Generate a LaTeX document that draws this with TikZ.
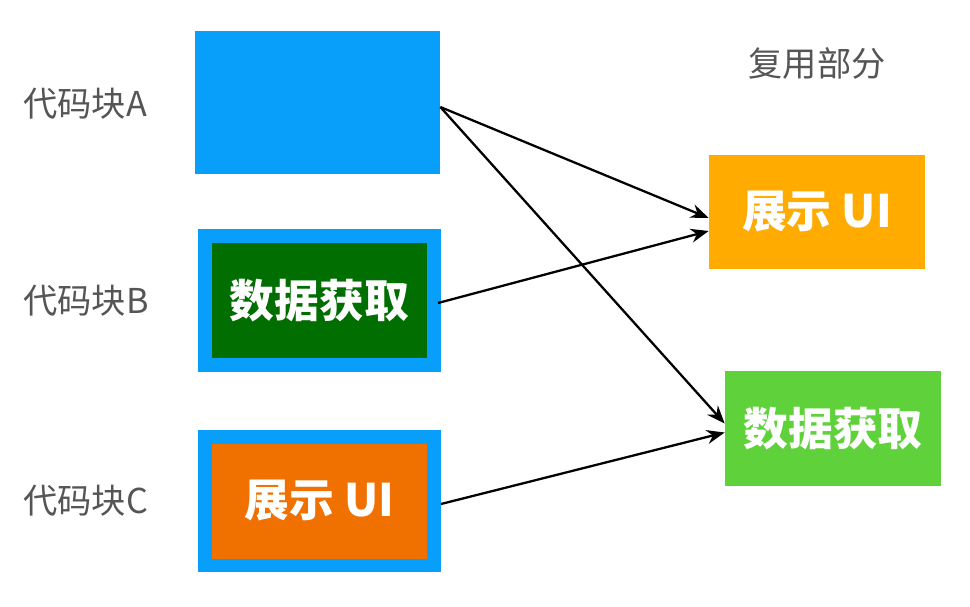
\documentclass[tikz,border=0pt]{standalone}
\usepackage{fontspec}
\usepackage{xcolor}
\usepackage{tikz}
\usetikzlibrary{arrows.meta,positioning}
\newfontfamily\cjk{Noto Sans CJK SC}
\definecolor{blkblue}{HTML}{089FFB}
\definecolor{blkgreen}{HTML}{006E00}
\definecolor{blkorange}{HTML}{F07000}
\definecolor{reuseamber}{HTML}{FFAB00}
\definecolor{reusegreen}{HTML}{5FD23B}
\definecolor{labelgray}{HTML}{555555}

\begin{document}
\begin{tikzpicture}[
  x=0.02cm, y=-0.02cm,
  codeblock/.style={rectangle, fill=blkblue, minimum width=4.9cm, minimum height=2.86cm, inner sep=0pt},
  innerblock/.style={rectangle, draw=blkblue, line width=0.28cm, minimum width=4.58cm, minimum height=2.58cm, inner sep=0pt, text=white, font=\cjk\bfseries\fontsize{25.5}{28}\selectfont},
  reuse/.style={rectangle, minimum width=4.32cm, minimum height=2.29cm, inner sep=0pt, text=white, font=\cjk\bfseries\fontsize{25.5}{28}\selectfont},
  caption/.style={text=labelgray, inner sep=0pt, font=\cjk\fontsize{19.5}{22}\selectfont},
  edge/.style={-{Stealth[length=3.6mm, width=2.8mm]}, line width=1.3pt, black},
]
  \useasboundingbox (0,0) rectangle (970,606);

  % code blocks on the left
  \node[codeblock] (blockA) at (317.5,102.5) {};
  \node[innerblock, fill=blkgreen] (blockB) at (319.5,300.5) {数据获取};
  \node[innerblock, fill=blkorange] (blockC) at (319.5,501) {展示 UI};

  \node[caption, anchor=west] (capA) at (23,104) {代码块A};
  \node[caption, anchor=west] (capB) at (23,301) {代码块B};
  \node[caption, anchor=west] (capC) at (23,501) {代码块C};

  % reused parts on the right
  \node[caption] (reusecap) at (817,63) {复用部分};
  \node[reuse, fill=reuseamber] (showui) at (817,212) {展示 UI};
  \node[reuse, fill=reusegreen] (fetch) at (833,428.5) {数据获取};

  \draw[edge] ([yshift=-0.09cm]blockA.east) -- ([yshift=-0.12cm]showui.west);
  \draw[edge] ([yshift=-0.09cm]blockA.east) -- ([yshift=0.1cm]fetch.west);
  \draw[edge] ([xshift=-0.06cm,yshift=-0.05cm]blockB.east) -- ([yshift=-0.38cm]showui.west);
  \draw[edge] ([yshift=-0.06cm]blockC.east) -- ([yshift=-0.08cm]fetch.west);
\end{tikzpicture}
\end{document}
